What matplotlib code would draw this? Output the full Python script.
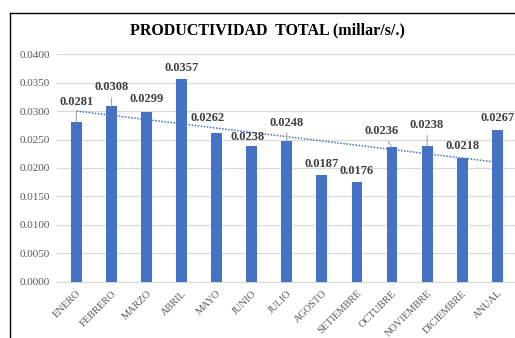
import numpy as np
import matplotlib
matplotlib.use("Agg")
import matplotlib.pyplot as plt
from matplotlib.lines import Line2D

plt.rcParams["font.family"] = ["Liberation Serif", "DejaVu Serif"]

# data
meses = ["ENERO", "FEBRERO", "MARZO", "ABRIL", "MAYO", "JUNIO", "JULIO",
         "AGOSTO", "SETIEMBRE", "OCTUBRE", "NOVIEMBRE", "DICIEMBRE", "ANUAL"]
productividad = [0.0281, 0.0308, 0.0299, 0.0357, 0.0262, 0.0238, 0.0248,
                 0.0187, 0.0176, 0.0236, 0.0238, 0.0218, 0.0267]
yticks = [0.0, 0.005, 0.010, 0.015, 0.020, 0.025, 0.030, 0.035, 0.040]

# label offsets (pixels) and which labels have a leader line
lbl_dx = [0, 0, 0, 0, -9, -4, 0, 0, 0, -10, 0, 0, 0]
lbl_dy = [20, 19, 13, 11, 15, 9, 18, 11, 11, 16, 21, 12, 12]
leader = [True, True, False, False, False, False, True, False, False, True, True, False, False]

azul = "#4472C4"

fig = plt.figure(figsize=(5.15, 3.38), dpi=100)
ax = fig.add_axes([0.111, 0.166, 0.892, 0.674])

x = np.arange(len(meses))
ax.bar(x, productividad, width=0.31, color=azul, zorder=3)

# linear trendline
m, b = np.polyfit(x, productividad, 1)
ax.plot(x, m * x + b, linestyle=(0, (1, 1)), color=azul, linewidth=1.1, zorder=2)

for i, v in enumerate(productividad):
    props = dict(arrowstyle="-", color="#A6A6A6", lw=0.8, shrinkA=1, shrinkB=0) if leader[i] else None
    ax.annotate(f"{v:.4f}", xy=(i, v), xytext=(lbl_dx[i], lbl_dy[i]),
                textcoords="offset pixels", ha="center", va="center",
                fontsize=9, fontweight="bold", color="#404040",
                arrowprops=props, zorder=4)

ax.set_xlim(-0.55, 12.55)
ax.set_ylim(0, 0.04)
ax.set_yticks(yticks)
ax.set_yticklabels([f"{t:.4f}" for t in yticks], fontsize=8, color="#595959")
ax.set_xticks(x)
ax.set_xticklabels(meses, rotation=45, ha="right", rotation_mode="anchor",
                   fontsize=7.5, color="#595959")
ax.tick_params(length=0, pad=5)
ax.grid(axis="y", color="#D9D9D9", linewidth=0.9, zorder=0)
ax.set_axisbelow(True)
for s in ["top", "right", "left"]:
    ax.spines[s].set_visible(False)
ax.spines["bottom"].set_color("#D9D9D9")

fig.text(0.52, 0.911, "PRODUCTIVIDAD  TOTAL (millar/s/.)", ha="center", va="center",
         fontsize=11.5, fontweight="bold", color="#000000")

# outer frame of the chart
fig.add_artist(Line2D([10 / 515, 10 / 515], [0, 1 - 13 / 338], color="black", lw=1))
fig.add_artist(Line2D([10 / 515, 1], [1 - 13 / 338, 1 - 13 / 338], color="black", lw=1))

fig.savefig("out.png", dpi=100)
